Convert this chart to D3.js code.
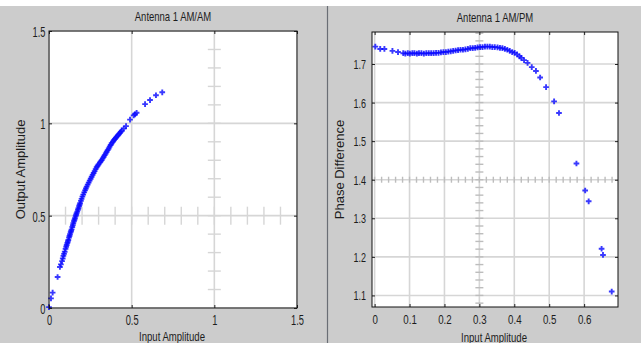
<!DOCTYPE html>
<html><head><meta charset="utf-8">
<script src="https://cdn.jsdelivr.net/npm/d3@7/dist/d3.min.js"></script>
<style>body{margin:0;background:#fff}svg{display:block}</style>
</head><body>
<svg id="chart" width="641" height="343"></svg>
<script>
// ---- Data ----
const amamInput = [0, 0.012, 0.022, 0.052, 0.066, 0.072, 0.079, 0.083, 0.087, 0.091, 0.095, 0.1, 0.104, 0.107, 0.111, 0.114, 0.117, 0.121, 0.124, 0.127, 0.131, 0.134, 0.137, 0.141, 0.144, 0.147, 0.151, 0.154, 0.157, 0.161, 0.164, 0.167, 0.171, 0.175, 0.178, 0.182, 0.185, 0.188, 0.193, 0.197, 0.202, 0.207, 0.213, 0.218, 0.223, 0.228, 0.234, 0.24, 0.246, 0.252, 0.258, 0.264, 0.27, 0.276, 0.282, 0.288, 0.294, 0.3, 0.307, 0.313, 0.319, 0.325, 0.331, 0.337, 0.343, 0.349, 0.355, 0.361, 0.367, 0.373, 0.379, 0.386, 0.392, 0.398, 0.404, 0.409, 0.416, 0.422, 0.428, 0.434, 0.44, 0.452, 0.466, 0.49, 0.512, 0.52, 0.53, 0.581, 0.611, 0.647, 0.685];
const amamOutput = [0.005, 0.052, 0.083, 0.168, 0.222, 0.236, 0.254, 0.268, 0.282, 0.293, 0.305, 0.32, 0.332, 0.341, 0.352, 0.36, 0.368, 0.381, 0.39, 0.399, 0.41, 0.418, 0.426, 0.439, 0.449, 0.459, 0.47, 0.478, 0.486, 0.497, 0.505, 0.513, 0.522, 0.532, 0.54, 0.551, 0.559, 0.567, 0.58, 0.591, 0.603, 0.614, 0.626, 0.637, 0.647, 0.657, 0.668, 0.679, 0.69, 0.7, 0.711, 0.721, 0.731, 0.741, 0.752, 0.762, 0.77, 0.778, 0.787, 0.794, 0.801, 0.81, 0.819, 0.828, 0.837, 0.846, 0.855, 0.864, 0.874, 0.883, 0.892, 0.9, 0.908, 0.915, 0.921, 0.927, 0.934, 0.941, 0.947, 0.954, 0.96, 0.972, 0.985, 1.02, 1.043, 1.049, 1.057, 1.104, 1.126, 1.152, 1.168];

const ampmInput = [0.002, 0.016, 0.028, 0.051, 0.067, 0.082, 0.088, 0.095, 0.101, 0.108, 0.114, 0.121, 0.127, 0.134, 0.141, 0.148, 0.155, 0.162, 0.169, 0.176, 0.183, 0.19, 0.197, 0.204, 0.211, 0.218, 0.225, 0.232, 0.239, 0.246, 0.253, 0.26, 0.267, 0.274, 0.281, 0.288, 0.295, 0.302, 0.309, 0.316, 0.323, 0.33, 0.337, 0.344, 0.352, 0.359, 0.366, 0.373, 0.38, 0.387, 0.394, 0.401, 0.408, 0.415, 0.42, 0.428, 0.438, 0.45, 0.462, 0.474, 0.491, 0.514, 0.528, 0.578, 0.603, 0.613, 0.65, 0.654, 0.679];
const ampmPhase = [1.745, 1.739, 1.739, 1.734, 1.731, 1.728, 1.727, 1.728, 1.727, 1.728, 1.728, 1.727, 1.728, 1.728, 1.727, 1.728, 1.728, 1.728, 1.728, 1.729, 1.729, 1.73, 1.731, 1.731, 1.732, 1.733, 1.734, 1.735, 1.736, 1.737, 1.737, 1.738, 1.739, 1.741, 1.741, 1.742, 1.743, 1.744, 1.744, 1.745, 1.745, 1.745, 1.744, 1.744, 1.743, 1.742, 1.741, 1.739, 1.737, 1.734, 1.731, 1.729, 1.725, 1.72, 1.716, 1.71, 1.703, 1.692, 1.682, 1.665, 1.64, 1.603, 1.573, 1.442, 1.372, 1.344, 1.221, 1.205, 1.11];

const amamXTicks = [0, 0.5, 1, 1.5];
const amamYTicks = [0, 0.5, 1, 1.5];
const ampmXTicks = [0, 0.1, 0.2, 0.3, 0.4, 0.5, 0.6];
const ampmYTicks = [1.1, 1.2, 1.3, 1.4, 1.5, 1.6, 1.7];

const titles = ["Antenna 1 AM/AM", "Antenna 1 AM/PM"];
const xLabels = ["Input Amplitude", "Input Amplitude"];
const yLabels = ["Output Amplitude", "Phase Difference"];

// ---- Drawing ----
const svg = d3.select("#chart");
const FONT = "'Liberation Sans', Arial, Helvetica, sans-serif";

svg.append("rect").attr("width", 641).attr("height", 343).attr("fill", "#cccccc");
svg.append("rect").attr("width", 641).attr("height", 6).attr("fill", "#ffffff");
svg.append("line").attr("x1", 327.5).attr("x2", 327.5).attr("y1", 6).attr("y2", 343)
  .attr("stroke", "#6a6e75").attr("stroke-width", 1.2);

function drawPanel(cfg) {
  const x = d3.scaleLinear().domain(cfg.xDomain).range([cfg.left, cfg.right]);
  const y = d3.scaleLinear().domain(cfg.yDomain).range([cfg.bottom, cfg.top]);
  const g = svg.append("g");

  g.append("rect").attr("x", cfg.left).attr("y", cfg.top)
    .attr("width", cfg.right - cfg.left).attr("height", cfg.bottom - cfg.top)
    .attr("fill", "#ffffff");

  // grid
  g.append("g").selectAll("line").data(cfg.xTicks).join("line")
    .attr("x1", d => x(d)).attr("x2", d => x(d))
    .attr("y1", cfg.top).attr("y2", cfg.bottom)
    .attr("stroke", "#d6d6d6").attr("stroke-width", 1.6);
  g.append("g").selectAll("line").data(cfg.yTicks).join("line")
    .attr("y1", d => y(d)).attr("y2", d => y(d))
    .attr("x1", cfg.left).attr("x2", cfg.right)
    .attr("stroke", "#d6d6d6").attr("stroke-width", 1.6);

  // crosshair tick marks
  const cx = x(cfg.crossX), cy = y(cfg.crossY);
  g.append("g").selectAll("line").data(cfg.crossYTicks).join("line")
    .attr("x1", cx - cfg.crossHalfH).attr("x2", cx + cfg.crossHalfH)
    .attr("y1", d => y(d)).attr("y2", d => y(d))
    .attr("stroke", cfg.crossColor).attr("stroke-width", 1.4);
  g.append("g").selectAll("line").data(cfg.crossXTicks).join("line")
    .attr("y1", cy - cfg.crossHalfV).attr("y2", cy + cfg.crossHalfV)
    .attr("x1", d => x(d)).attr("x2", d => x(d))
    .attr("stroke", cfg.crossColor).attr("stroke-width", 1.4);

  // data points
  const sym = d3.symbol(d3.symbolCross, 18);
  g.append("g").selectAll("path").data(cfg.xs.map((v, i) => [v, cfg.ys[i]])).join("path")
    .attr("d", sym)
    .attr("transform", d => `translate(${x(d[0])},${y(d[1])})`)
    .attr("fill", "#0808ff").attr("fill-opacity", 0.8);

  // axes
  const tl = 3;
  const bottomAxis = g.append("g").attr("transform", `translate(0,${cfg.bottom})`)
    .call(d3.axisBottom(x).tickValues(cfg.xTicks).tickSize(-tl).tickPadding(0).tickFormat(d3.format("")));
  const topAxis = g.append("g").attr("transform", `translate(0,${cfg.top})`)
    .call(d3.axisTop(x).tickValues(cfg.xTicks).tickSize(-tl).tickFormat(""));
  const leftAxis = g.append("g").attr("transform", `translate(${cfg.left},0)`)
    .call(d3.axisLeft(y).tickValues(cfg.yTicks).tickSize(-tl).tickFormat(d3.format("")));
  const rightAxis = g.append("g").attr("transform", `translate(${cfg.right},0)`)
    .call(d3.axisRight(y).tickValues(cfg.yTicks).tickSize(-tl).tickFormat(""));
  [bottomAxis, topAxis, leftAxis, rightAxis].forEach(a => {
    a.select(".domain").remove();
    a.selectAll(".tick line").attr("stroke", "#222");
  });

  bottomAxis.selectAll(".tick text")
    .attr("y", null).attr("dy", null)
    .attr("transform", `translate(0,${cfg.xLabelBase}) scale(${cfg.xScale},1)`)
    .attr("font-family", FONT).attr("font-size", cfg.xFont).attr("fill", "#1c1c1c");
  leftAxis.selectAll(".tick text")
    .attr("x", null).attr("dy", "0.36em")
    .attr("transform", `translate(${-cfg.yPad},0) scale(${cfg.yScale},1)`)
    .attr("font-family", FONT).attr("font-size", cfg.yFont).attr("fill", "#1c1c1c");

  // frame
  g.append("rect").attr("x", cfg.left).attr("y", cfg.top)
    .attr("width", cfg.right - cfg.left).attr("height", cfg.bottom - cfg.top)
    .attr("fill", "none").attr("stroke", "#111").attr("stroke-width", 1);

  const mid = (cfg.left + cfg.right) / 2;
  g.append("text").text(cfg.title)
    .attr("transform", `translate(${mid},${cfg.titleBase}) scale(0.73,1)`)
    .attr("text-anchor", "middle").attr("font-family", FONT).attr("font-size", 13).attr("fill", "#1c1c1c");
  g.append("text").text(cfg.xLabel)
    .attr("transform", `translate(${mid - 1},${cfg.xTitleBase}) scale(0.71,1)`)
    .attr("text-anchor", "middle").attr("font-family", FONT).attr("font-size", 13.5).attr("fill", "#1c1c1c");
  g.append("text").text(cfg.yLabel)
    .attr("transform", `translate(${cfg.yTitleX},${(cfg.top + cfg.bottom) / 2}) rotate(-90)`)
    .attr("text-anchor", "middle").attr("font-family", FONT).attr("font-size", 13).attr("fill", "#1c1c1c");
}

drawPanel({
  left: 49, right: 297, top: 31, bottom: 308,
  xDomain: [0, 1.5], yDomain: [0, 1.5],
  xTicks: amamXTicks, yTicks: amamYTicks,
  xs: amamInput, ys: amamOutput,
  crossX: 1, crossY: 0.5,
  crossXTicks: d3.range(1, 15).map(v => v / 10),
  crossYTicks: d3.range(1, 15).map(v => v / 10),
  crossHalfH: 6.5, crossHalfV: 9, crossColor: "#d6d6d6",
  xFont: 15, xScale: 0.62, xLabelBase: 17,
  yFont: 15, yScale: 0.62, yPad: 3.5,
  title: titles[0], xLabel: xLabels[0], yLabel: yLabels[0],
  titleBase: 21, xTitleBase: 341, yTitleX: 25
});

drawPanel({
  left: 372, right: 618, top: 32, bottom: 307,
  xDomain: [-0.0075, 0.697], yDomain: [1.07, 1.783],
  xTicks: ampmXTicks, yTicks: ampmYTicks,
  xs: ampmInput, ys: ampmPhase,
  crossX: 0.3, crossY: 1.4,
  crossXTicks: d3.range(0, 35).map(v => v / 50),
  crossYTicks: d3.range(54, 90).map(v => v / 50),
  crossHalfH: 4, crossHalfV: 3, crossColor: "#bdbdbd",
  xFont: 13.5, xScale: 0.72, xLabelBase: 17,
  yFont: 12.5, yScale: 0.72, yPad: 6,
  title: titles[1], xLabel: xLabels[1], yLabel: yLabels[1],
  titleBase: 22, xTitleBase: 342, yTitleX: 344
});
</script>
</body></html>
